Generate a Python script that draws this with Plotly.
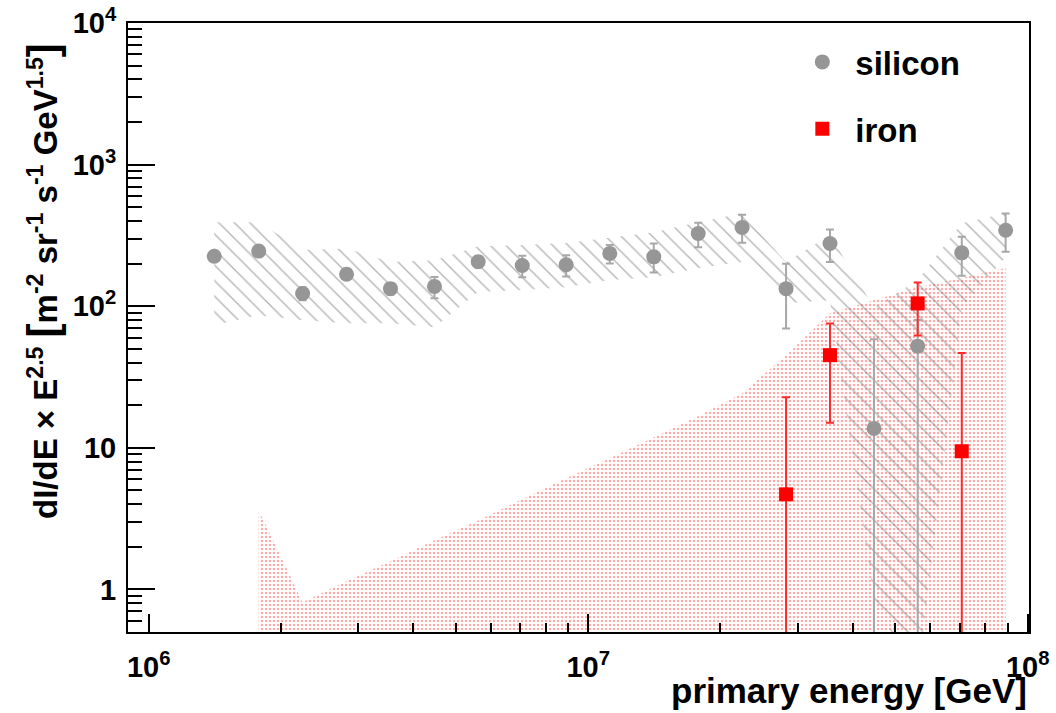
import plotly.graph_objects as go

# Bin centres of primary energy [GeV]
energy = [1.41e6, 1.78e6, 2.24e6, 2.82e6, 3.55e6, 4.47e6, 5.62e6, 7.08e6, 8.91e6,
          1.12e7, 1.41e7, 1.78e7, 2.24e7, 2.82e7, 3.55e7, 4.47e7, 5.62e7, 7.08e7, 8.91e7]

# Silicon flux (dI/dE x E^2.5) with statistical error limits
si_flux = [225, 245, 123, 168, 133, 138, 206, 194, 196, 236,
           223, 326, 360, 133, 277, 13.7, 52.2, 238, 344]
si_stat_hi = [237, 258, 136, 182, 145, 161, 226, 227, 229, 270,
              277, 388, 442, 199, 348, 58.4, 80, 309, 452]
si_stat_lo = [213, 232, 110, 155, 121, 114, 188, 160, 162, 200,
              173, 261, 280, 69.5, 205, 0, 0, 164, 242]
# Silicon systematic band limits
si_sys_hi = [392, 392, 249, 255, 205, 211, 265, 270, 279, 303,
             333, 392, 454, 205, 318, 98, 153, 386, 454]
si_sys_lo = [73.4, 86.4, 79.6, 75.8, 75.8, 71.1, 126, 130, 136, 153,
             160, 186, 205, 105, 110, 0.84, 0.23, 98.5, 222]

# Iron flux with statistical error limits
fe_energy = [2.82e7, 3.55e7, 5.62e7, 7.08e7]
fe_flux = [4.69, 45.1, 104.6, 9.45]
fe_stat_hi = [22.7, 75.5, 147, 46.8]
fe_stat_lo = [0, 15.0, 62.1, 0]
# Iron systematic band (upper limit; lower limit is off scale)
fe_band_energy = energy[1:]
fe_sys_hi = [3.62, 0.81, 1.14, 1.58, 2.22, 3.07, 4.33, 6.09, 8.43,
             11.9, 16.7, 24.3, 45.1, 89.3, 110, 136, 158, 186]

x_ticks = [1e6, 1e7, 1e8]
x_ticktext = ["10<sup>6</sup>", "10<sup>7</sup>", "10<sup>8</sup>"]
y_ticks = [1, 10, 100, 1000, 10000]
y_ticktext = ["1", "10", "10<sup>2</sup>", "10<sup>3</sup>", "10<sup>4</sup>"]

FONT = "Liberation Sans"
GREY = "#969696"

fig = go.Figure()

# Iron systematic band: dotted red fill
fig.add_trace(go.Scatter(
    x=fe_band_energy, y=fe_sys_hi, mode="lines", fill="tozeroy",
    line=dict(width=0, color="rgba(0,0,0,0)"),
    fillcolor="rgba(0,0,0,0)",
    fillpattern=dict(shape=".", size=4, solidity=0.3,
                     fgcolor="rgb(255,85,85)", bgcolor="rgba(0,0,0,0)"),
    showlegend=False, hoverinfo="skip"))

# Silicon systematic band: grey hatching
fig.add_trace(go.Scatter(
    x=energy + energy[::-1], y=si_sys_hi + si_sys_lo[::-1],
    mode="lines", fill="toself",
    line=dict(width=0, color="rgba(0,0,0,0)"),
    fillcolor="rgba(0,0,0,0)",
    fillpattern=dict(shape="\\", size=11, solidity=0.13,
                     fgcolor="#707070", bgcolor="rgba(0,0,0,0)"),
    showlegend=False, hoverinfo="skip"))

# Silicon points
fig.add_trace(go.Scatter(
    x=energy, y=si_flux, mode="markers", name="silicon",
    legendgroup="si",
    marker=dict(symbol="circle", size=15, color=GREY),
    error_y=dict(type="data", symmetric=False,
                 array=[h - v for h, v in zip(si_stat_hi, si_flux)],
                 arrayminus=[v - l for v, l in zip(si_flux, si_stat_lo)],
                 color="#a8a8a8", thickness=2, width=4)))

# Iron points
fig.add_trace(go.Scatter(
    x=fe_energy, y=fe_flux, mode="markers", name="iron",
    legendgroup="fe",
    marker=dict(symbol="square", size=14, color="#ff0000"),
    error_y=dict(type="data", symmetric=False,
                 array=[h - v for h, v in zip(fe_stat_hi, fe_flux)],
                 arrayminus=[v - l for v, l in zip(fe_flux, fe_stat_lo)],
                 color="#ff2a2a", thickness=2, width=4)))

x_minor = [m * d for d in (1e6, 1e7) for m in range(2, 10)]
y_minor = [m / 10 for m in range(5, 10)] + [m * d for d in (1, 10, 100, 1000) for m in range(2, 10)]

axis_common = dict(
    type="log", showgrid=False, zeroline=False, automargin=False,
    showline=True, linecolor="black", linewidth=2, mirror=True,
    ticks="inside", tickcolor="black", tickwidth=2,
    tickfont=dict(family=FONT, size=29, color="black", weight="bold"),
)

fig.update_xaxes(
    **axis_common, range=[5.953, 8.003],
    tickmode="array", tickvals=x_ticks, ticktext=x_ticktext, ticklen=18,
    ticklabelstandoff=8,
    minor=dict(tickmode="array", tickvals=x_minor, ticks="inside",
               ticklen=9, tickwidth=2, tickcolor="black"))
fig.update_yaxes(
    **axis_common, range=[-0.30103, 4],
    tickmode="array", tickvals=y_ticks, ticktext=y_ticktext, ticklen=27,
    ticklabelstandoff=4,
    minor=dict(tickmode="array", tickvals=y_minor, ticks="inside",
               ticklen=14, tickwidth=2, tickcolor="black"))

fig.add_annotation(
    text="primary energy [GeV]", xref="paper", yref="paper",
    x=1.0, y=-0.096, xanchor="right", yanchor="middle", showarrow=False,
    font=dict(family=FONT, size=35, color="black", weight="bold"))

fig.add_annotation(
    text=("dI/dE \u00d7 E<sup>2.5</sup> <span style='font-size:42px'>[</span>"
          "m<sup>-2</sup> sr<sup>-1</sup> s<sup>-1</sup> GeV<sup>1.5</sup>"
          "<span style='font-size:42px'>]</span>"),
    xref="paper", yref="paper", x=-0.095, y=0.577,
    xanchor="center", yanchor="middle", textangle=-90, showarrow=False,
    font=dict(family=FONT, size=33, color="black", weight="bold"))

fig.update_layout(
    width=1056, height=713,
    margin=dict(l=128, r=27, t=23, b=81, autoexpand=False),
    paper_bgcolor="white", plot_bgcolor="white",
    legend=dict(x=0.734, y=0.982, xanchor="left", yanchor="top",
                bgcolor="rgba(0,0,0,0)", borderwidth=0, itemwidth=56,
                traceorder="grouped", tracegroupgap=21,
                font=dict(family=FONT, size=33, color="black", weight="bold")),
)

fig.write_html("out.html")
